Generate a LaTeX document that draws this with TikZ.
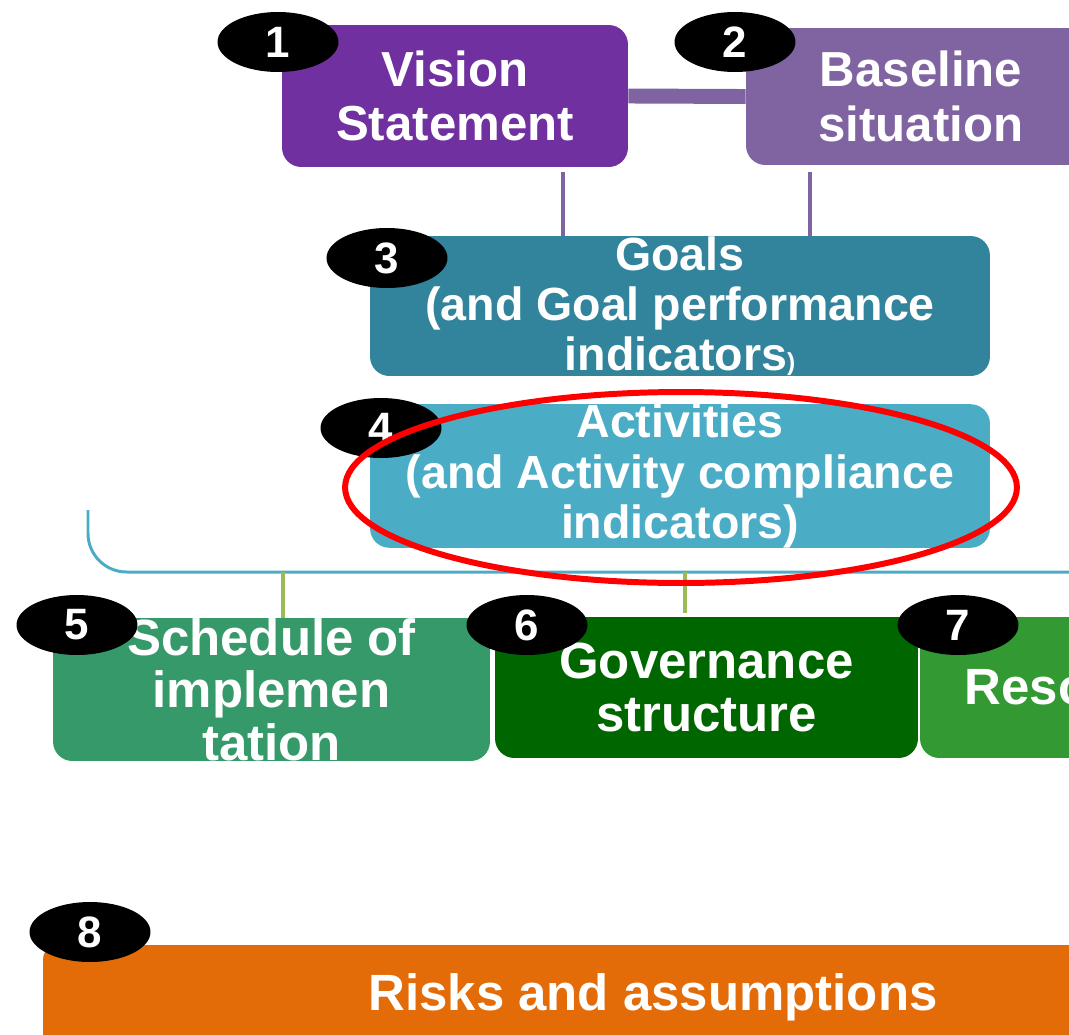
\documentclass[tikz,border=0pt]{standalone}
\usepackage{fontspec}
\setmainfont{Liberation Sans}
\usetikzlibrary{shapes.geometric}

\definecolor{cVision}{HTML}{7030A0}
\definecolor{cBase}{HTML}{8064A2}
\definecolor{cGoals}{HTML}{31849B}
\definecolor{cAct}{HTML}{4BACC6}
\definecolor{cSched}{HTML}{35996A}
\definecolor{cGov}{HTML}{006600}
\definecolor{cRes}{HTML}{339933}
\definecolor{cRisk}{HTML}{E36C09}
\definecolor{cTick}{HTML}{9BBB59}

\tikzset{
  box/.style={rounded corners=11pt, inner sep=0pt, text=white, align=center,
    font=\bfseries\fontsize{28}{31}\selectfont},
  num/.style={ellipse, fill=black, inner sep=0pt, minimum width=2.42cm,
    minimum height=1.2cm, text=white, font=\bfseries\fontsize{25}{25}\selectfont},
  barlink/.style={draw=cBase, line width=8.5pt},
  vlink/.style={draw=cBase, line width=2.8pt},
  tick/.style={draw=cTick, line width=2.3pt},
  brace/.style={draw=cAct, line width=1.7pt, rounded corners=22pt},
}

\begin{document}
\begin{tikzpicture}[x=0.02cm, y=-0.02cm]
\useasboundingbox (0,0) rectangle (1069,1035);
\clip (0,0) rectangle (1069,1035);

% top row
\node[box, fill=cVision, minimum width=6.92cm, minimum height=2.84cm] (vision) at (455,96) {Vision\\Statement};
\node[box, fill=cBase, minimum width=7.0cm, minimum height=2.74cm] (baseline) at (921,96.5) {Baseline\\situation};
\draw[barlink] (vision.east) -- (baseline.west);

% goals and activities
\node[box, fill=cGoals, minimum width=12.4cm, minimum height=2.8cm,
  font=\bfseries\fontsize{26.5}{28.5}\selectfont] (goals) at (680,306)
  {Goals\\(and Goal performance\\indicators{\fontsize{14}{14}\selectfont)}};
\node[box, fill=cAct, minimum width=12.4cm, minimum height=2.84cm,
  font=\bfseries\fontsize{26.5}{28.5}\selectfont] (acts) at (680,476)
  {Activities\\(and Activity compliance\\indicators)};

\coordinate (l1) at (563,172);
\coordinate (l2) at (810,172);
\draw[vlink] (l1) -- (l1 |- goals.north);
\draw[vlink] (l2) -- (l2 |- goals.north);

% brace under activities
\coordinate (bl) at (88,510);
\coordinate (br) at (1090,572);
\draw[brace] (bl) |- (br);

% bottom row
\begin{scope}
\clip (0,0) rectangle (1069,760);
\node[box, fill=cSched, minimum width=8.74cm, minimum height=2.86cm,
  font=\bfseries\fontsize{29}{30}\selectfont] (sched) at (271.5,689.5)
  {Schedule of\\implemen\\tation};
\end{scope}
\node[box, fill=cGov, minimum width=8.46cm, minimum height=2.82cm,
  font=\bfseries\fontsize{29}{30.5}\selectfont] (gov) at (706.5,687.5)
  {Governance\\structure};
\node[box, fill=cRes, minimum width=7.0cm, minimum height=2.82cm,
  font=\bfseries\fontsize{29}{30.5}\selectfont] (res) at (1095,687.5) {Resources};

\coordinate (t5) at (283,572);
\coordinate (t6) at (685,572);
\draw[tick] (t5) -- (t5 |- sched.north);
\draw[tick] (t6) -- ([yshift=2pt]t6 |- gov.north);

% risks
\node[box, fill=cRisk, rounded corners=8pt, minimum width=24.4cm, minimum height=2.08cm,
  font=\bfseries\fontsize{29}{30}\selectfont] (risks) at (653,997) {Risks and assumptions};

% numbers
\node[num] (n1) at (278,42) {1};
\node[num] (n2) at (735,42) {2};
\node[num] (n3) at (387,258) {3};
\node[num] (n4) at (381,428) {4};
\node[num] (n5) at (77,625) {5};
\node[num] (n6) at (527,625) {6};
\node[num] (n7) at (958,625) {7};
\node[num] (n8) at (90,932) {8};

% highlight
\node[draw=red, line width=3.4pt, ellipse, minimum width=13.44cm, minimum height=3.82cm] (focus) at (681,487.5) {};
\end{tikzpicture}
\end{document}
